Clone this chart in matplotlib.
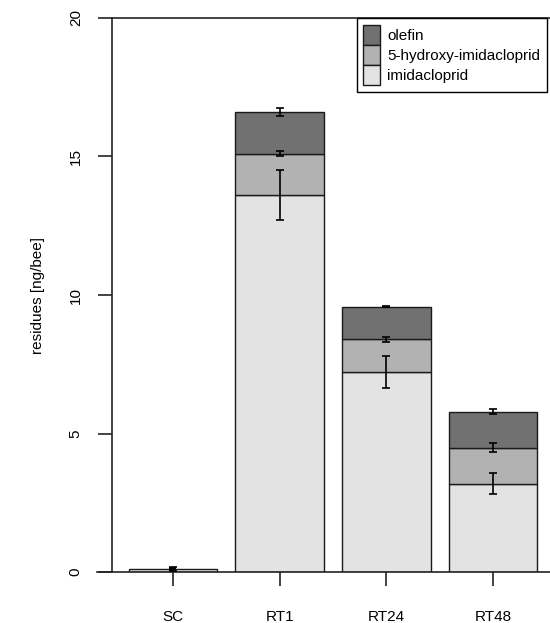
import matplotlib
matplotlib.use("Agg")
import matplotlib.pyplot as plt
import numpy as np

# data (ng/bee)
groups = ["SC", "RT1", "RT24", "RT48"]
imidacloprid = [0.11, 13.6, 7.22, 3.19]
imidacloprid_err = [0.07, 0.90, 0.58, 0.37]
hydroxy = [0.0, 1.50, 1.18, 1.30]
hydroxy_err = [0.0, 0.10, 0.10, 0.16]
olefin = [0.0, 1.50, 1.18, 1.30]
olefin_err = [0.0, 0.15, 0.03, 0.08]
y_ticks = [0, 5, 10, 15, 20]

colors = {"olefin": "#717171", "hydroxy": "#b2b2b2", "imidacloprid": "#e3e3e3"}
edge = "#1a1a1a"

plt.rcParams["font.family"] = ["Liberation Sans", "DejaVu Sans"]
plt.rcParams["font.size"] = 11

fig = plt.figure(figsize=(5.5, 6.23), dpi=100)
ax = fig.add_axes([112 / 550, 51 / 623, 1 - 112 / 550, (572 - 18) / 623])

x = np.arange(len(groups))
width = 0.83

imid = np.array(imidacloprid)
hyd = np.array(hydroxy)
ole = np.array(olefin)

# SC only has imidacloprid
b1 = ax.bar(x, imid, width, color=colors["imidacloprid"], edgecolor=edge, linewidth=1, label="imidacloprid")
b2 = ax.bar(x[1:], hyd[1:], width, bottom=imid[1:], color=colors["hydroxy"], edgecolor=edge,
            linewidth=1, label="5-hydroxy-imidacloprid")
b3 = ax.bar(x[1:], ole[1:], width, bottom=(imid + hyd)[1:], color=colors["olefin"], edgecolor=edge,
            linewidth=1, label="olefin")

err_kw = dict(fmt="none", ecolor="black", elinewidth=1.2, capsize=3, capthick=1.2, zorder=5)
ax.errorbar(x, imid, yerr=imidacloprid_err, **err_kw)
ax.errorbar(x[1:], (imid + hyd)[1:], yerr=hydroxy_err[1:], **err_kw)
ax.errorbar(x[1:], (imid + hyd + ole)[1:], yerr=olefin_err[1:], **err_kw)
# SC error is tiny, it shows up as a small black block
ax.bar(x[0], 2 * imidacloprid_err[0], 0.065, bottom=imid[0] - imidacloprid_err[0], color="black", zorder=6)

ax.set_xlim(-0.570, 3.533)
ax.set_ylim(0, 20)
ax.set_yticks(y_ticks)
ax.set_yticklabels([str(t) for t in y_ticks], rotation=90, va="center")
ax.set_xticks(x)
ax.set_xticklabels(groups)
ax.tick_params(axis="y", length=10, width=1.2, pad=11, colors="#222222", labelcolor="black")
ax.tick_params(axis="x", length=10, width=1.2, pad=17.5, colors="#222222", labelcolor="black")

ax.spines["right"].set_visible(False)
for s in ["left", "top", "bottom"]:
    ax.spines[s].set_linewidth(1.2)
    ax.spines[s].set_color("#222222")
ax.spines["bottom"].set_bounds(-0.57 - 15 / 107, 3.533)
ax.spines["bottom"].set_clip_on(False)

ax.set_ylabel("residues [ng/bee]", labelpad=17)

leg = ax.legend(handles=[b3, b2, b1], loc="upper right",
                bbox_to_anchor=(547 / 550, 1 - 18 / 623), bbox_transform=fig.transFigure,
                borderaxespad=0, fancybox=False, framealpha=1, edgecolor="black",
                labelspacing=0, handlelength=1.1, handleheight=1.65, handletextpad=0.45,
                borderpad=0.45)
leg.get_frame().set_linewidth(1)

fig.savefig("out.png", dpi=100)
